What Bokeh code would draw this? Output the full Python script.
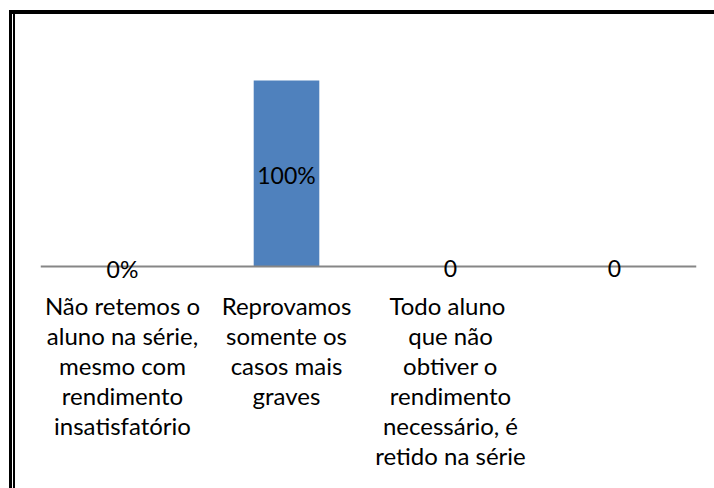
from bokeh.plotting import figure
from bokeh.models import ColumnDataSource, Range1d, FactorRange, LabelSet
from bokeh.core.properties import value
from bokeh.embed import file_html
from bokeh.resources import INLINE

# ---- data ----
categories = [
    "Não retemos o\naluno na série,\nmesmo com\nrendimento\ninsatisfatório",
    "Reprovamos\nsomente os\ncasos mais\ngraves",
    "Todo  aluno\nque não\nobtiver o\nrendimento\nnecessário, é\nretido na série",
    " ",
]
values = [0, 100, 0, 0]
value_labels = ["0%", "100%", "0", "0"]

FONT = "Lato"
LINE_STEP = 30      # px between label lines
FIRST_LINE = 39     # px from axis to centre of first label line

src = ColumnDataSource(dict(
    cat=categories,
    val=values,
    mid=[v / 2 for v in values],
    lab=value_labels,
))

# one row per line of each category label, so every line is centred
line_cat, line_txt, line_off = [], [], []
for c in categories:
    for i, t in enumerate(c.split("\n")):
        line_cat.append(c)
        line_txt.append(t)
        line_off.append(-(FIRST_LINE + i * LINE_STEP))
line_src = ColumnDataSource(dict(cat=line_cat, txt=line_txt,
                                 zero=[0] * len(line_cat), off=line_off))

p = figure(
    width=714, height=488,
    x_range=FactorRange(factors=categories, range_padding=0),
    y_range=Range1d(-119.35, 133.33),
    output_backend="svg", toolbar_location=None,
    y_axis_location=None,
    min_border_left=40, min_border_right=18,
    min_border_top=18, min_border_bottom=0,
)
p.outline_line_color = None
p.border_fill_color = None
p.background_fill_color = None
p.xgrid.visible = False
p.ygrid.visible = False

p.vbar(x="cat", top="val", bottom=0, width=0.40, source=src,
       fill_color="#4F81BD", line_color=None)

# value labels
labels = LabelSet(x="cat", y="mid", text="lab", source=src,
                  text_align="center", text_baseline="middle",
                  y_offset=-2, text_font=value(FONT), text_font_size="23px",
                  text_color="#000000")
p.add_layout(labels)

# category labels (placed on the categorical scale, below the axis line)
cat_labels = LabelSet(x="cat", y="zero", text="txt", source=line_src,
                      text_align="center", text_baseline="middle",
                      y_offset="off", text_font=value(FONT),
                      text_font_size="24px", text_color="#000000")
p.add_layout(cat_labels)

ax = p.xaxis[0]
ax.fixed_location = 0
ax.axis_line_color = "#868686"
ax.axis_line_width = 2
ax.major_tick_line_color = None
ax.minor_tick_line_color = None
ax.major_tick_out = 0
ax.major_tick_in = 0
ax.major_label_standoff = 0
ax.major_label_text_font_size = "0px"
ax.major_label_text_alpha = 0

p.styles = {
    "box-shadow": ("inset 0 10px 0 white, inset 9px 0 0 white, "
                   "inset 0 14px 0 black, inset 12px 0 0 black, "
                   "inset 13px 0 0 white, inset 15px 0 0 black")
}

open("out.html", "w").write(file_html(p, INLINE))
